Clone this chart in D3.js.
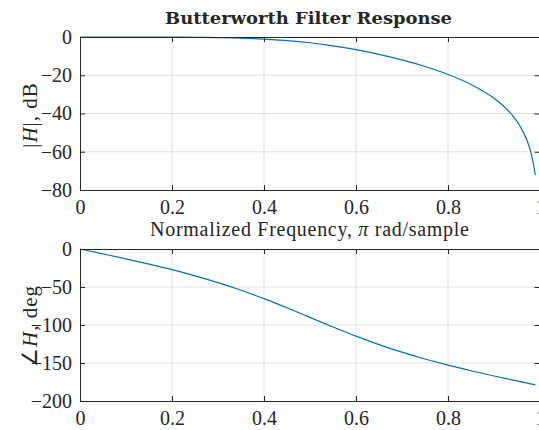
<!DOCTYPE html>
<html>
<head>
<meta charset="utf-8">
<script src="https://d3js.org/d3.v7.min.js"></script>
<style>
  html, body { margin: 0; padding: 0; background: #fff; }
  svg { display: block; }
  text { font-family: "Liberation Serif", "Times New Roman", serif; fill: #262626; }
</style>
</head>
<body>
<svg id="chart" width="539" height="430"></svg>
<script>
// ---- data ----
const magFreq = [0, 0.05, 0.1, 0.15, 0.2, 0.25, 0.3, 0.35, 0.4, 0.45, 0.5, 0.55, 0.6, 0.65, 0.7, 0.75, 0.8, 0.85, 0.9, 0.92, 0.94, 0.95, 0.96, 0.97, 0.98, 0.99];
const magDb   = [0, 0, -0.003, -0.014, -0.048, -0.126, -0.283, -0.573, -1.067, -1.853, -3.01, -4.593, -6.617, -9.081, -11.996, -15.437, -19.58, -24.80, -32.01, -35.94, -40.98, -44.16, -48.05, -53.06, -60.1, -72.15];
const phaseFreq = [0, 0.05, 0.1, 0.15, 0.2, 0.25, 0.3, 0.35, 0.4, 0.45, 0.5, 0.55, 0.6, 0.65, 0.7, 0.75, 0.8, 0.85, 0.9, 0.95, 0.99];
const phaseDeg  = [0, -6.39, -12.93, -19.82, -27.19, -35.26, -44.23, -54.23, -65.32, -77.38, -90, -102.62, -114.68, -125.77, -135.77, -144.74, -152.81, -160.18, -167.07, -173.61, -178.73];
const xTicks = [0, 0.2, 0.4, 0.6, 0.8, 1];
const xTickLabels = ["0", "0.2", "0.4", "0.6", "0.8", "1"];
const magTicks = [0, -20, -40, -60, -80];
const phaseTicks = [0, -50, -100, -150, -200];
const titleText = "Butterworth Filter Response";

// ---- layout ----
const svg = d3.select("#chart");
const left = 80, right = 540;
const x = d3.scaleLinear().domain([0, 1]).range([left, right]);
const yMag = d3.scaleLinear().domain([-80, 0]).range([190, 37]);
const yPh = d3.scaleLinear().domain([-200, 0]).range([401, 249]);
const axisColor = "#262626", gridColor = "#e0e0e0", lineColor = "#0072BD";
const fmtMinus = v => v < 0 ? "\u2212" + Math.abs(v) : String(v);

function panel(y, yTicks, fx, fy, yLabelParts, labelCy) {
  const g = svg.append("g");
  const [y0, y1] = y.range();
  // grid
  g.append("g").selectAll("line").data(xTicks.slice(1, -1)).join("line")
    .attr("x1", d => x(d)).attr("x2", d => x(d)).attr("y1", y1).attr("y2", y0)
    .attr("stroke", gridColor).attr("stroke-width", 1);
  g.append("g").selectAll("line").data(yTicks.slice(1, -1)).join("line")
    .attr("x1", left).attr("x2", right).attr("y1", d => y(d)).attr("y2", d => y(d))
    .attr("stroke", gridColor).attr("stroke-width", 1);
  // curve
  const data = fx.map((v, i) => [v, fy[i]]);
  g.append("path").datum(data)
    .attr("fill", "none").attr("stroke", lineColor).attr("stroke-width", 1.2)
    .attr("d", d3.line().x(d => x(d[0])).y(d => y(d[1])).curve(d3.curveMonotoneX));
  // axes
  const ax = d3.axisBottom(x).tickValues(xTicks).tickFormat((d, i) => xTickLabels[i]).tickSizeInner(-5).tickSizeOuter(0).tickPadding(10);
  const axT = d3.axisTop(x).tickValues(xTicks).tickFormat("").tickSizeInner(-5).tickSizeOuter(0);
  const ay = d3.axisLeft(y).tickValues(yTicks).tickFormat(fmtMinus).tickSizeInner(-5).tickSizeOuter(0).tickPadding(8);
  const ayR = d3.axisRight(y).tickValues(yTicks).tickFormat("").tickSizeInner(-5).tickSizeOuter(0);
  const styleAxis = sel => {
    sel.selectAll(".domain").attr("stroke", axisColor).attr("stroke-width", 1);
    sel.selectAll(".tick line").attr("stroke", axisColor);
    sel.selectAll(".tick text").style("font-family", "Liberation Serif, serif").style("font-size", "20px").attr("fill", axisColor);
  };
  g.append("g").attr("transform", `translate(0,${y0})`).call(ax).call(styleAxis);
  g.append("g").attr("transform", `translate(0,${y1})`).call(axT).call(styleAxis);
  g.append("g").attr("transform", `translate(${left},0)`).call(ay).call(styleAxis);
  g.append("g").attr("transform", `translate(${right - 0.5},0)`).call(ayR).call(styleAxis);
  // y label
  const t = g.append("text").attr("transform", `translate(37,${labelCy}) rotate(-90)`)
    .attr("text-anchor", "middle").style("font-size", "21px").style("letter-spacing", "1px");
  yLabelParts.forEach(p => t.append("tspan").text(p.t).style("font-style", p.i ? "italic" : "normal"));
  return g;
}

panel(yMag, magTicks, magFreq, magDb, [{t: "|"}, {t: "H", i: true}, {t: "|, dB"}], 115);
panel(yPh, phaseTicks, phaseFreq, phaseDeg, [{t: "\u2220"}, {t: "H", i: true}, {t: ", deg"}], 326);

// title
svg.append("text").attr("x", 308.5).attr("y", 24).attr("text-anchor", "middle")
  .style("font-family", "DejaVu Serif, serif").style("font-size", "16px").style("font-weight", "bold")
  .attr("textLength", 287).attr("lengthAdjust", "spacingAndGlyphs").text(titleText);
// x label (top panel)
const xl = svg.append("text").attr("x", 309.5).attr("y", 236).attr("text-anchor", "middle")
  .style("font-size", "20px").attr("textLength", 319).attr("lengthAdjust", "spacing");
xl.append("tspan").text("Normalized Frequency, ");
xl.append("tspan").style("font-style", "italic").text("\u03C0");
xl.append("tspan").text(" rad/sample");
</script>
</body>
</html>
